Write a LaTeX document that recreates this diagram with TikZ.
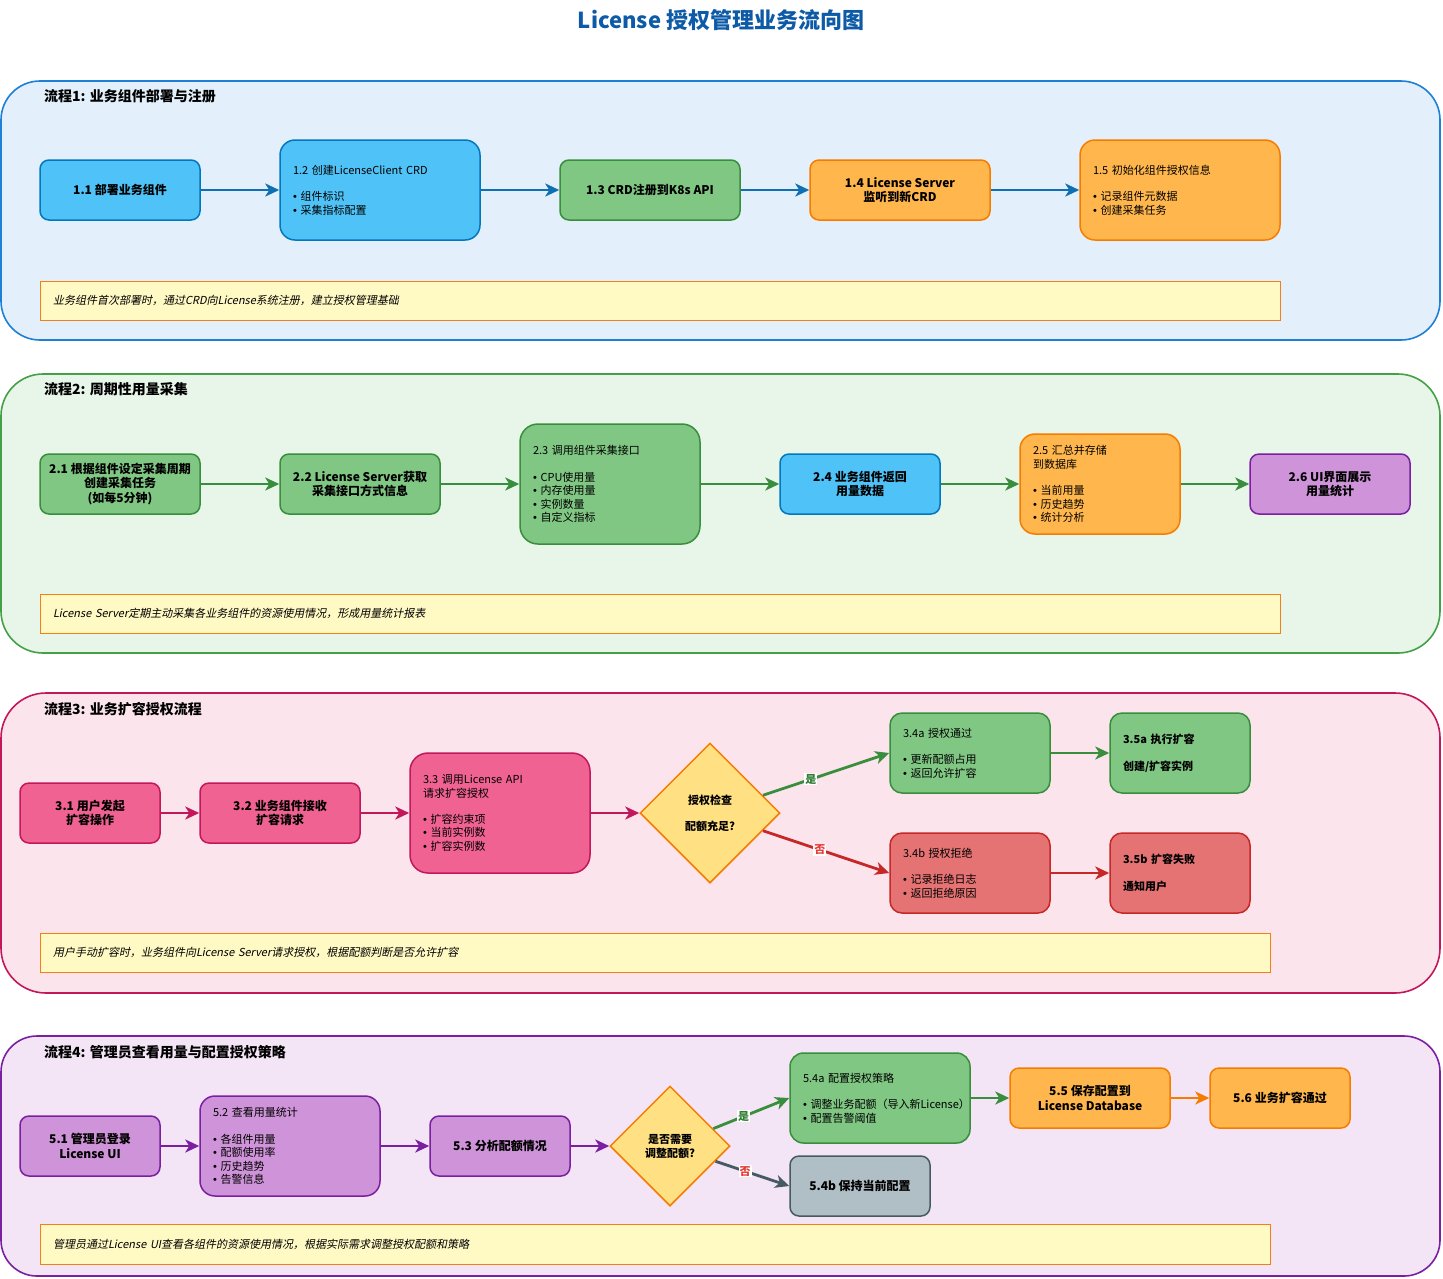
\documentclass[tikz,border=0pt]{standalone}
\usepackage{fontspec}
\setmainfont{Noto Sans CJK SC}
\newfontfamily\notefont{Noto Sans CJK SC}[FakeSlant=0.2]
\newfontfamily\bulfont{Liberation Sans}
\newcommand\bu{{\bulfont •}~}
\usetikzlibrary{arrows.meta,shapes.geometric}
\definecolor{titleC}{HTML}{0D5AA7}
\definecolor{lAF}{HTML}{E3F0FB}\definecolor{lAD}{HTML}{1E7FD6}
\definecolor{lBF}{HTML}{E8F5E9}\definecolor{lBD}{HTML}{43A047}
\definecolor{lCF}{HTML}{FCE4EC}\definecolor{lCD}{HTML}{C2185B}
\definecolor{lDF}{HTML}{F3E5F5}\definecolor{lDD}{HTML}{7B1FA2}
\definecolor{bF}{HTML}{4FC3F7}\definecolor{bD}{HTML}{0277BD}
\definecolor{gF}{HTML}{81C784}\definecolor{gD}{HTML}{388E3C}
\definecolor{oF}{HTML}{FFB74D}\definecolor{oD}{HTML}{F57C00}
\definecolor{pF}{HTML}{CE93D8}\definecolor{pD}{HTML}{7B1FA2}
\definecolor{kF}{HTML}{F06292}\definecolor{kD}{HTML}{C2185B}
\definecolor{rF}{HTML}{E57373}\definecolor{rD}{HTML}{C62828}
\definecolor{sF}{HTML}{B0BEC5}\definecolor{sD}{HTML}{455A64}
\definecolor{dF}{HTML}{FFE082}\definecolor{dD}{HTML}{F57C00}
\definecolor{nF}{HTML}{FFF9C4}\definecolor{nD}{HTML}{F57F17}
\definecolor{arBlue}{HTML}{0F6FB5}
\definecolor{arGreen}{HTML}{388E3C}
\definecolor{arPink}{HTML}{C2185B}
\definecolor{arRed}{HTML}{C62828}
\definecolor{arPurple}{HTML}{7B1FA2}
\definecolor{arGray}{HTML}{455A64}
\definecolor{arOrange}{HTML}{F57C00}
\definecolor{yesC}{HTML}{2E7D32}
\definecolor{noC}{HTML}{E53935}
\tikzset{
  lane/.style={line width=1.6pt, inner sep=0pt},
  lanetitle/.style={anchor=west, inner sep=0pt, font=\bfseries\fontsize{14}{16}\selectfont},
  box/.style={line width=1.5pt, inner sep=0pt, align=center, font=\bfseries\fontsize{12}{14.5}\selectfont},
  lbox/.style={line width=1.5pt, inner ysep=0pt, inner xsep=13pt, align=left, font=\fontsize{11}{13.3}\selectfont},
  lboxb/.style={lbox, font=\bfseries\fontsize{11}{13.3}\selectfont},
  note/.style={fill=nF, draw=nD, line width=1pt, inner xsep=13pt, inner ysep=0pt, align=left, font=\notefont\fontsize{11}{13}\selectfont},
  dia/.style={diamond, aspect=1, fill=dF, draw=dD, line width=1.5pt, inner sep=0pt, align=center, font=\bfseries\fontsize{11}{14}\selectfont},
  cblue/.style={fill=bF, draw=bD},
  cgreen/.style={fill=gF, draw=gD},
  corange/.style={fill=oF, draw=oD},
  cpurple/.style={fill=pF, draw=pD},
  cpink/.style={fill=kF, draw=kD},
  cred/.style={fill=rF, draw=rD},
  cgray/.style={fill=sF, draw=sD},
  conn/.style={line width=2.8pt, -{Stealth[length=14pt,width=13pt,inset=4pt]}},
  yeslab/.style={fill=white, inner sep=1pt, text=yesC, font=\bfseries\fontsize{11}{13}\selectfont},
  nolab/.style={fill=white, inner sep=1pt, text=noC, font=\bfseries\fontsize{11}{13}\selectfont},
}
\begin{document}
\begin{tikzpicture}[x=1pt,y=-1pt]
\useasboundingbox[fill=white] (0,0) rectangle (1443,1278);

\node[font=\bfseries\fontsize{22}{26}\selectfont, text=titleC] (title) at (721,20) {License 授权管理业务流向图};

% ---------- Lane 1 ----------
\node[lane, fill=lAF, draw=lAD, rounded corners=39pt, minimum width=1439pt, minimum height=259pt] (lane1) at (720.5,210.5) {};
\node[lanetitle] (lt1) at (44,96) {流程1: 业务组件部署与注册};
\node[box, cblue, rounded corners=9pt, minimum width=160pt, minimum height=60pt] (n11) at (120,190) {1.1 部署业务组件};
\node[lbox, cblue, rounded corners=15pt, minimum width=200pt, minimum height=100pt, text width=174pt] (n12) at (380,190) {1.2~创建LicenseClient~CRD\\[13.3pt]\bu 组件标识\\\bu 采集指标配置};
\node[box, cgreen, rounded corners=9pt, minimum width=180pt, minimum height=60pt] (n13) at (650,190) {1.3 CRD注册到K8s API};
\node[box, corange, rounded corners=9pt, minimum width=180pt, minimum height=60pt] (n14) at (900,190) {1.4 License Server\\监听到新CRD};
\node[lbox, corange, rounded corners=15pt, minimum width=200pt, minimum height=100pt, text width=174pt] (n15) at (1180,190) {1.5~初始化组件授权信息\\[13.3pt]\bu 记录组件元数据\\\bu 创建采集任务};
\node[note, minimum width=1240pt, minimum height=39pt, text width=1214pt] (c1) at (660,300.5) {业务组件首次部署时，通过CRD向License系统注册，建立授权管理基础};
\draw[conn, arBlue] (n11) -- (n12);
\draw[conn, arBlue] (n12) -- (n13);
\draw[conn, arBlue] (n13) -- (n14);
\draw[conn, arBlue] (n14) -- (n15);

% ---------- Lane 2 ----------
\node[lane, fill=lBF, draw=lBD, rounded corners=42pt, minimum width=1439pt, minimum height=279pt] (lane2) at (720.5,513.5) {};
\node[lanetitle] (lt2) at (44,389) {流程2: 周期性用量采集};
\node[box, cgreen, rounded corners=9pt, minimum width=160pt, minimum height=60pt] (n21) at (120,484) {2.1 根据组件设定采集周期\\创建采集任务\\(如每5分钟)};
\node[box, cgreen, rounded corners=9pt, minimum width=160pt, minimum height=60pt] (n22) at (360,484) {2.2 License Server获取\\采集接口方式信息};
\node[lbox, cgreen, rounded corners=18pt, minimum width=180pt, minimum height=120pt, text width=154pt] (n23) at (610,484) {2.3~调用组件采集接口\\[13.3pt]\bu CPU使用量\\\bu 内存使用量\\\bu 实例数量\\\bu 自定义指标};
\node[box, cblue, rounded corners=9pt, minimum width=160pt, minimum height=60pt] (n24) at (860,484) {2.4 业务组件返回\\用量数据};
\node[lbox, corange, rounded corners=15pt, minimum width=160pt, minimum height=100pt, text width=134pt] (n25) at (1100,484) {2.5~汇总并存储\\到数据库\\[13.3pt]\bu 当前用量\\\bu 历史趋势\\\bu 统计分析};
\node[box, cpurple, rounded corners=9pt, minimum width=160pt, minimum height=60pt] (n26) at (1330,484) {2.6 UI界面展示\\用量统计};
\node[note, minimum width=1240pt, minimum height=39pt, text width=1214pt] (c2) at (660,613.5) {License Server定期主动采集各业务组件的资源使用情况，形成用量统计报表};
\draw[conn, arGreen] (n21) -- (n22);
\draw[conn, arGreen] (n22) -- (n23);
\draw[conn, arGreen] (n23) -- (n24);
\draw[conn, arGreen] (n24) -- (n25);
\draw[conn, arGreen] (n25) -- (n26);

% ---------- Lane 3 ----------
\node[lane, fill=lCF, draw=lCD, rounded corners=45pt, minimum width=1439pt, minimum height=300pt] (lane3) at (720.5,843) {};
\node[lanetitle] (lt3) at (44,709) {流程3: 业务扩容授权流程};
\node[box, cpink, rounded corners=9pt, minimum width=140pt, minimum height=60pt] (n31) at (90,813) {3.1 用户发起\\扩容操作};
\node[box, cpink, rounded corners=9pt, minimum width=160pt, minimum height=60pt] (n32) at (280,813) {3.2 业务组件接收\\扩容请求};
\node[lbox, cpink, rounded corners=18pt, minimum width=180pt, minimum height=120pt, text width=154pt] (n33) at (500,813) {3.3~调用License~API\\请求扩容授权\\[13.3pt]\bu 扩容约束项\\\bu 当前实例数\\\bu 扩容实例数};
\node[dia, minimum width=140pt, minimum height=140pt] (d1) at (710,813) {授权检查\\[12pt]配额充足?};
\node[lbox, cgreen, rounded corners=12pt, minimum width=160pt, minimum height=80pt, text width=134pt] (n34a) at (970,753) {3.4a~授权通过\\[13.3pt]\bu 更新配额占用\\\bu 返回允许扩容};
\node[lboxb, cgreen, rounded corners=12pt, minimum width=140pt, minimum height=80pt, text width=114pt] (n35a) at (1180,753) {3.5a~执行扩容\\[13.3pt]创建/扩容实例};
\node[lbox, cred, rounded corners=12pt, minimum width=160pt, minimum height=80pt, text width=134pt] (n34b) at (970,873) {3.4b~授权拒绝\\[13.3pt]\bu 记录拒绝日志\\\bu 返回拒绝原因};
\node[lboxb, cred, rounded corners=12pt, minimum width=140pt, minimum height=80pt, text width=114pt] (n35b) at (1180,873) {3.5b~扩容失败\\[13.3pt]通知用户};
\node[note, minimum width=1230pt, minimum height=39pt, text width=1204pt] (c3) at (655,952.5) {用户手动扩容时，业务组件向License Server请求授权，根据配额判断是否允许扩容};
\draw[conn, arPink] (n31) -- (n32);
\draw[conn, arPink] (n32) -- (n33);
\draw[conn, arPink] (n33) -- (d1);
\draw[conn, arGreen] (d1) -- node[yeslab, pos=0.38] {是} (n34a.west);
\draw[conn, arRed] (d1) -- node[nolab, pos=0.45] {否} (n34b.west);
\draw[conn, arGreen] (n34a) -- (n35a);
\draw[conn, arRed] (n34b) -- (n35b);

% ---------- Lane 4 ----------
\node[lane, fill=lDF, draw=lDD, rounded corners=36pt, minimum width=1439pt, minimum height=240pt] (lane4) at (720.5,1156) {};
\node[lanetitle] (lt4) at (44,1052) {流程4: 管理员查看用量与配置授权策略};
\node[box, cpurple, rounded corners=9pt, minimum width=140pt, minimum height=60pt] (n51) at (90,1146) {5.1 管理员登录\\License UI};
\node[lbox, cpurple, rounded corners=15pt, minimum width=180pt, minimum height=100pt, text width=154pt] (n52) at (290,1146) {5.2~查看用量统计\\[13.3pt]\bu 各组件用量\\\bu 配额使用率\\\bu 历史趋势\\\bu 告警信息};
\node[box, cpurple, rounded corners=9pt, minimum width=140pt, minimum height=60pt] (n53) at (500,1146) {5.3 分析配额情况};
\node[dia, minimum width=120pt, minimum height=120pt] (d2) at (670,1146) {是否需要\\调整配额?};
\node[lbox, cgreen, rounded corners=13.5pt, minimum width=180pt, minimum height=90pt, text width=154pt] (n54a) at (880,1098) {5.4a~配置授权策略\\[13.3pt]\bu 调整业务配额（导入新License）\\\bu 配置告警阈值};
\node[box, cgray, rounded corners=9pt, minimum width=140pt, minimum height=60pt] (n54b) at (860,1186) {5.4b 保持当前配置};
\node[box, corange, rounded corners=9pt, minimum width=160pt, minimum height=60pt] (n55) at (1090,1098) {5.5 保存配置到\\License Database};
\node[box, corange, rounded corners=9pt, minimum width=140pt, minimum height=60pt] (n56) at (1280,1098) {5.6 业务扩容通过};
\node[note, minimum width=1230pt, minimum height=40pt, text width=1204pt] (c4) at (655,1244) {管理员通过License UI查看各组件的资源使用情况，根据实际需求调整授权配额和策略};
\draw[conn, arPurple] (n51) -- (n52);
\draw[conn, arPurple] (n52) -- (n53);
\draw[conn, arPurple] (n53) -- (d2);
\draw[conn, arGreen] (d2) -- node[yeslab, pos=0.4] {是} (n54a.west);
\draw[conn, arGray] (d2) -- node[nolab, pos=0.4] {否} (n54b.west);
\draw[conn, arGreen] (n54a) -- (n55);
\draw[conn, arOrange] (n55) -- (n56);
\end{tikzpicture}
\end{document}
